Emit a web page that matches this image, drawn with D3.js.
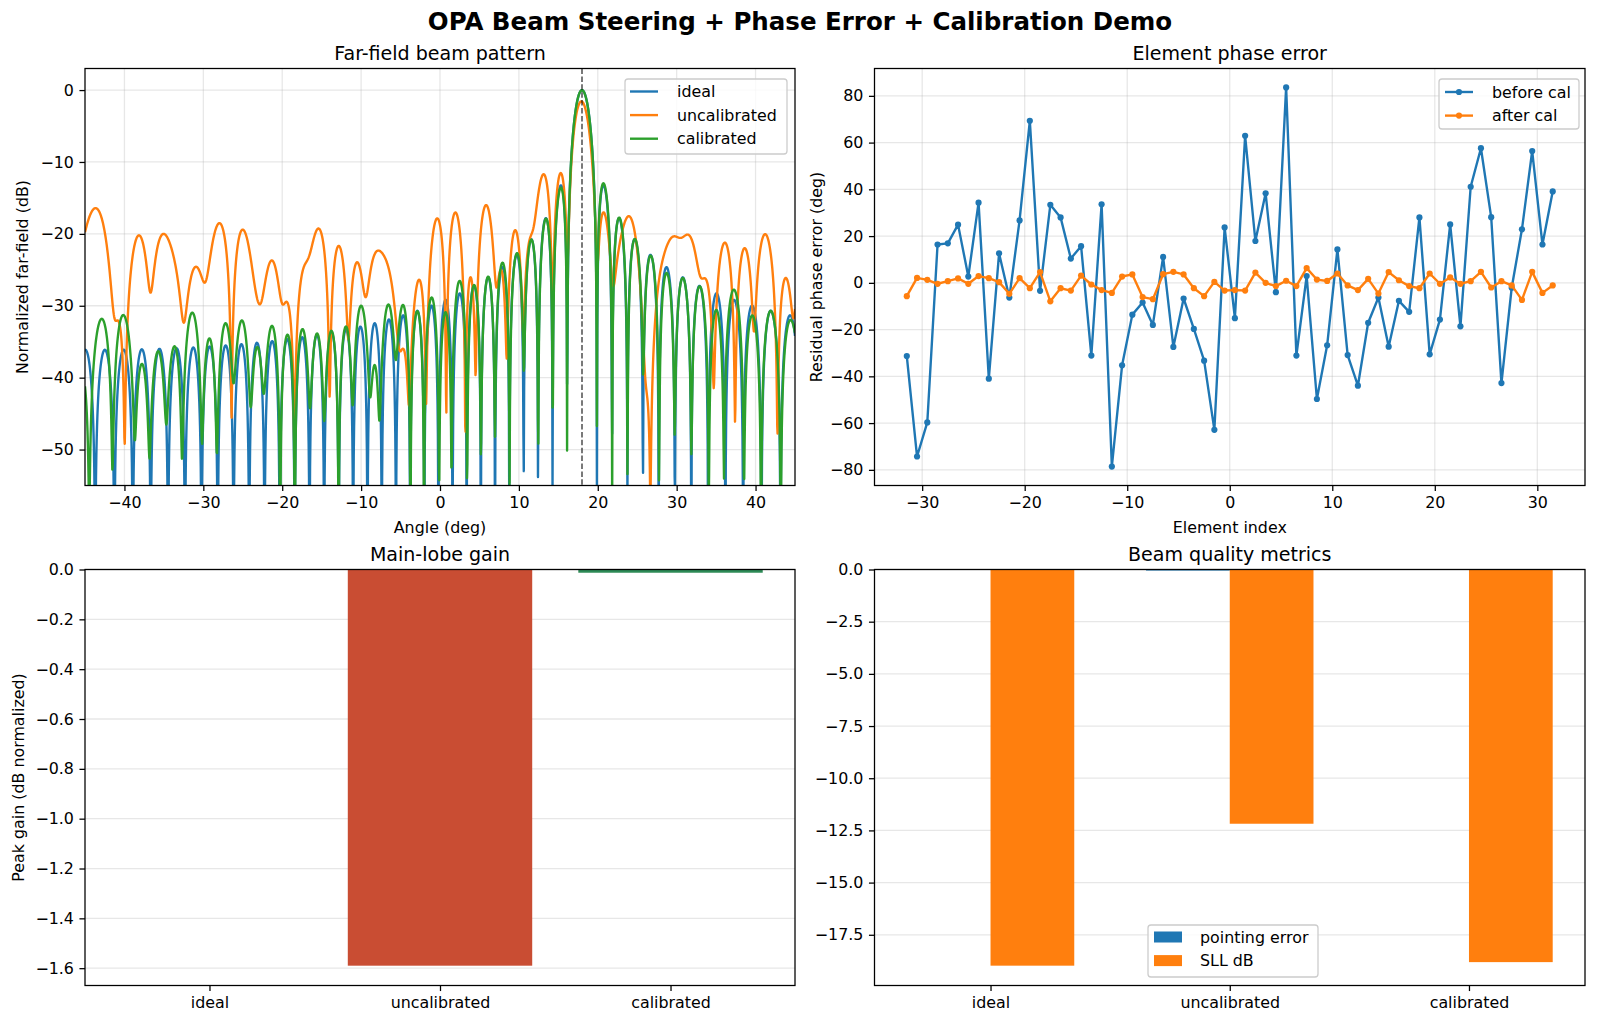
<!DOCTYPE html>
<html>
<head>
<meta charset="utf-8">
<script src="https://cdn.jsdelivr.net/npm/d3@7/dist/d3.min.js"></script>
<style>
  body { margin: 0; background: #fff; }
  text { font-family: "DejaVu Sans", sans-serif; fill: #000; }
</style>
</head>
<body>
<script>
// Figure (matplotlib-like sizes at ~114 dpi)
const W = 1600, H = 1024;
const PT = 1600 / 14 / 72;
const TICK_FS = 10 * PT, LABEL_FS = 10 * PT, TITLE_FS = 12 * PT;
const LW = 1.5 * PT, AXW = 0.8 * PT, TICK_LEN = 3.5 * PT;

// Colors
const C_BLUE = '#1f77b4', C_ORANGE = '#ff7f0e', C_GREEN = '#2ca02c';

// ---- Data ----
// element positions (index, centred)
const ELEM_IDX = d3.range(-31.5, 32, 1);
// residual phase error per element (deg)
const PHASE_BEFORE = [
  -31.3, -74.3, -59.7, 16.4, 16.9, 24.9, 2.7, 34.3, -41.0, 12.6,
  -6.3, 26.7, 69.3, -3.4, 33.4, 28.0, 10.4, 15.7, -31.1, 33.6,
  -78.6, -35.3, -13.6, -8.4, -18.0, 11.1, -27.4, -6.7, -19.7, -33.3,
  -62.9, 23.7, -15.1, 62.9, 17.9, 38.3, -4.0, 83.6, -31.1, 2.9,
  -49.7, -26.7, 14.3, -30.9, -44.0, -17.1, -6.3, -27.3, -7.7, -12.4,
  28.0, -30.6, -15.7, 25.0, -18.6, 41.1, 57.6, 28.1, -42.9, -2.1,
  22.9, 56.4, 16.4, 39.1
];
const PHASE_AFTER = [
  -5.7, 2.1, 1.3, -0.4, 0.7, 1.9, -0.4, 2.9, 2.0, 0.3,
  -4.7, 2.0, -2.3, 4.6, -7.9, -2.3, -3.3, 3.1, -0.7, -3.1,
  -4.3, 2.7, 3.6, -6.1, -7.0, 3.7, 4.7, 3.6, -2.3, -5.7,
  0.4, -3.3, -3.1, -3.3, 4.4, 0.0, -1.4, 0.9, -1.4, 6.3,
  1.4, 0.8, 4.0, -1.1, -3.1, 1.7, -4.6, 4.6, 1.1, -1.4,
  -2.3, 4.0, -0.4, 2.3, -0.4, 0.7, 4.7, -2.0, 0.7, -1.1,
  -7.3, 4.7, -4.3, -1.1
];
const STEER_DEG = 18;            // steering angle (dashed line)
const ANGLE_RANGE = [-45, 45];   // scan window
const N_ANGLES = 2001;

const CASES = ['ideal', 'uncalibrated', 'calibrated'];
const PEAK_GAIN_DB = [0, -1.59, -0.013];
const POINTING_ERR = [0, -0.05, 0];
const SLL_DB = [-18.98, -12.18, -18.81];

// ---- far-field of the 64-element, half-wavelength array ----
const rad = d => d * Math.PI / 180;
const ANGLES = d3.range(N_ANGLES).map(i => ANGLE_RANGE[0] + (ANGLE_RANGE[1] - ANGLE_RANGE[0]) * i / (N_ANGLES - 1));
function farField(errDeg) {
  const s0 = Math.sin(rad(STEER_DEG));
  return ANGLES.map(a => {
    const u = Math.sin(rad(a)) - s0;
    let re = 0, im = 0;
    ELEM_IDX.forEach((n, i) => {
      const p = Math.PI * n * u + (errDeg ? rad(errDeg[i]) : 0);
      re += Math.cos(p); im += Math.sin(p);
    });
    const m = Math.hypot(re, im) / ELEM_IDX.length;
    return { a, db: 20 * Math.log10(Math.max(m, 1e-9)) };
  });
}
const FF = [
  { name: 'ideal', color: C_BLUE, pts: farField(null) },
  { name: 'uncalibrated', color: C_ORANGE, pts: farField(PHASE_BEFORE) },
  { name: 'calibrated', color: C_GREEN, pts: farField(PHASE_AFTER) }
];

// ---- SVG ----
const svg = d3.select('body').append('svg')
  .attr('width', W).attr('height', H);
svg.append('rect').attr('width', W).attr('height', H).attr('fill', '#fff');
const defs = svg.append('defs');

svg.append('text')
  .attr('x', W / 2).attr('y', 30)
  .attr('text-anchor', 'middle')
  .attr('font-size', '24.5px').attr('font-weight', 'bold')
  .text('OPA Beam Steering + Phase Error + Calibration Demo');

const PANELS = {
  tl: { x0: 85, x1: 795, y0: 68.5, y1: 485.5 },
  tr: { x0: 874.5, x1: 1585, y0: 68.5, y1: 485.5 },
  bl: { x0: 85, x1: 795, y0: 569.5, y1: 985.5 },
  br: { x0: 874.5, x1: 1585, y0: 569.5, y1: 985.5 }
};

const minus = s => String(s).replace('-', '\u2212');

function panel(key, title, xlabel, ylabel, ylabelX) {
  const p = PANELS[key];
  const g = svg.append('g');
  defs.append('clipPath').attr('id', 'clip-' + key)
    .append('rect').attr('x', p.x0).attr('y', p.y0)
    .attr('width', p.x1 - p.x0).attr('height', p.y1 - p.y0);
  g.append('text')
    .attr('x', (p.x0 + p.x1) / 2).attr('y', p.y0 - 9)
    .attr('text-anchor', 'middle').attr('font-size', TITLE_FS + 'px')
    .text(title);
  if (xlabel) g.append('text')
    .attr('x', (p.x0 + p.x1) / 2).attr('y', p.y1 + 47)
    .attr('text-anchor', 'middle').attr('font-size', LABEL_FS + 'px')
    .text(xlabel);
  if (ylabel) g.append('text')
    .attr('transform', `translate(${ylabelX},${(p.y0 + p.y1) / 2}) rotate(-90)`)
    .attr('text-anchor', 'middle').attr('font-size', LABEL_FS + 'px')
    .text(ylabel);
  return { g, p };
}

function drawAxes(g, p, x, y, xt, yt, xfmt, yfmt, gridX) {
  const grid = g.append('g').attr('stroke', '#b0b0b0').attr('stroke-opacity', 0.3).attr('stroke-width', AXW);
  yt.forEach(v => grid.append('line').attr('x1', p.x0).attr('x2', p.x1).attr('y1', y(v)).attr('y2', y(v)));
  if (gridX) xt.forEach(v => grid.append('line').attr('y1', p.y0).attr('y2', p.y1).attr('x1', x(v)).attr('x2', x(v)));
  return () => {
    const ax = g.append('g').attr('transform', `translate(0,${p.y1})`)
      .call(d3.axisBottom(x).tickValues(xt).tickFormat(xfmt).tickSize(TICK_LEN).tickPadding(TICK_LEN).tickSizeOuter(0));
    const ay = g.append('g').attr('transform', `translate(${p.x0},0)`)
      .call(d3.axisLeft(y).tickValues(yt).tickFormat(yfmt).tickSize(TICK_LEN).tickPadding(TICK_LEN).tickSizeOuter(0));
    [ax, ay].forEach(a => {
      a.select('.domain').remove();
      a.selectAll('text').attr('font-size', TICK_FS + 'px').attr('font-family', '"DejaVu Sans", sans-serif').attr('fill', '#000');
      a.selectAll('line').attr('stroke', '#000').attr('stroke-width', AXW);
    });
    g.append('rect').attr('x', p.x0).attr('y', p.y0)
      .attr('width', p.x1 - p.x0).attr('height', p.y1 - p.y0)
      .attr('fill', 'none').attr('stroke', '#000').attr('stroke-width', AXW);
  };
}

function legendBox(g, x, y, w, h) {
  g.append('rect').attr('x', x).attr('y', y).attr('width', w).attr('height', h)
    .attr('rx', 3).attr('fill', '#fff').attr('fill-opacity', 0.8)
    .attr('stroke', '#cccccc').attr('stroke-width', AXW);
}

// ---- Far-field beam pattern ----
{
  const { g, p } = panel('tl', 'Far-field beam pattern', 'Angle (deg)', 'Normalized far-field (dB)', 28);
  const x = d3.scaleLinear().domain(ANGLE_RANGE).range([p.x0, p.x1]);
  const y = d3.scaleLinear().domain([-55, 3]).range([p.y1, p.y0]);
  const finish = drawAxes(g, p, x, y, d3.range(-40, 41, 10), d3.range(-50, 1, 10), minus, minus, true);
  const line = d3.line().x(d => x(d.a)).y(d => y(Math.max(d.db, -80)));
  const plot = g.append('g').attr('clip-path', 'url(#clip-tl)');
  FF.forEach(s => plot.append('path').datum(s.pts)
    .attr('d', line).attr('fill', 'none').attr('stroke', s.color)
    .attr('stroke-width', LW).attr('stroke-linejoin', 'round'));
  plot.append('line').attr('x1', x(STEER_DEG)).attr('x2', x(STEER_DEG))
    .attr('y1', p.y0).attr('y2', p.y1)
    .attr('stroke', '#000').attr('stroke-opacity', 0.7).attr('stroke-width', 1.5)
    .attr('stroke-dasharray', '5.5,2.4');
  finish();
  const lg = g.append('g');
  legendBox(lg, 625, 79, 162, 75);
  FF.forEach((s, i) => {
    const cy = 91.5 + i * 23.6;
    lg.append('line').attr('x1', 630).attr('x2', 658).attr('y1', cy).attr('y2', cy)
      .attr('stroke', s.color).attr('stroke-width', LW);
    lg.append('text').attr('x', 677).attr('y', cy + 5.5).attr('font-size', TICK_FS + 'px').text(s.name);
  });
}

// ---- Element phase error ----
{
  const { g, p } = panel('tr', 'Element phase error', 'Element index', 'Residual phase error (deg)', 821.5);
  const x = d3.scaleLinear().domain([-34.65, 34.65]).range([p.x0, p.x1]);
  const y = d3.scaleLinear().domain([-86.7, 91.7]).range([p.y1, p.y0]);
  const finish = drawAxes(g, p, x, y, d3.range(-30, 31, 10), d3.range(-80, 81, 20), minus, minus, true);
  const series = [
    { name: 'before cal', color: C_BLUE, vals: PHASE_BEFORE },
    { name: 'after cal', color: C_ORANGE, vals: PHASE_AFTER }
  ];
  const line = d3.line().x((d, i) => x(ELEM_IDX[i])).y(d => y(d));
  series.forEach(s => {
    const sg = g.append('g');
    sg.append('path').datum(s.vals).attr('d', line).attr('fill', 'none')
      .attr('stroke', s.color).attr('stroke-width', LW).attr('stroke-linejoin', 'round');
    sg.selectAll('circle').data(s.vals).join('circle')
      .attr('cx', (d, i) => x(ELEM_IDX[i])).attr('cy', d => y(d))
      .attr('r', 3.1).attr('fill', s.color);
  });
  finish();
  const lg = g.append('g');
  legendBox(lg, 1439, 79, 140, 50);
  series.forEach((s, i) => {
    const cy = 92 + i * 23.6;
    lg.append('line').attr('x1', 1445).attr('x2', 1473).attr('y1', cy).attr('y2', cy)
      .attr('stroke', s.color).attr('stroke-width', LW);
    lg.append('circle').attr('cx', 1459).attr('cy', cy).attr('r', 3.1).attr('fill', s.color);
    lg.append('text').attr('x', 1492).attr('y', cy + 5.5).attr('font-size', TICK_FS + 'px').text(s.name);
  });
}

// ---- Main-lobe gain ----
{
  const { g, p } = panel('bl', 'Main-lobe gain', null, 'Peak gain (dB normalized)', 24);
  const x = d3.scaleLinear().domain([-0.54, 2.54]).range([p.x0, p.x1]);
  const y = d3.scaleLinear().domain([-1.6695, 0]).range([p.y1, p.y0]);
  const finish = drawAxes(g, p, x, y, [0, 1, 2], d3.range(-16, 1, 2).map(v => v / 10),
    i => CASES[i], v => minus(v.toFixed(1)), false);
  const BAR_COLORS = ['#4c72b0', '#c94d33', '#2e8b57'];
  g.append('g').selectAll('rect').data(PEAK_GAIN_DB).join('rect')
    .attr('x', (d, i) => x(i - 0.4)).attr('width', x(0.8) - x(0))
    .attr('y', d => y(Math.max(d, 0))).attr('height', d => Math.abs(y(d) - y(0)))
    .attr('fill', (d, i) => BAR_COLORS[i]);
  finish();
}

// ---- Beam quality metrics ----
{
  const { g, p } = panel('br', 'Beam quality metrics', null, null, 0);
  const x = d3.scaleLinear().domain([-0.485, 2.485]).range([p.x0, p.x1]);
  const y = d3.scaleLinear().domain([-19.93, 0]).range([p.y1, p.y0]);
  const finish = drawAxes(g, p, x, y, [0, 1, 2], d3.range(-17.5, 0.1, 2.5),
    i => CASES[i], v => minus(v.toFixed(1)), false);
  const BW = 0.35;
  const groups = [
    { name: 'pointing error', color: C_BLUE, vals: POINTING_ERR, off: -BW },
    { name: 'SLL dB', color: C_ORANGE, vals: SLL_DB, off: 0 }
  ];
  groups.forEach(s => g.append('g').selectAll('rect').data(s.vals).join('rect')
    .attr('x', (d, i) => x(i + s.off)).attr('width', x(BW) - x(0))
    .attr('y', d => y(Math.max(d, 0))).attr('height', d => Math.abs(y(d) - y(0)))
    .attr('fill', s.color));
  finish();
  const lg = g.append('g');
  legendBox(lg, 1148, 925, 170, 52);
  groups.forEach((s, i) => {
    const cy = 937 + i * 23.6;
    lg.append('rect').attr('x', 1154).attr('y', cy - 5.5).attr('width', 28).attr('height', 11).attr('fill', s.color);
    lg.append('text').attr('x', 1200).attr('y', cy + 5.5).attr('font-size', TICK_FS + 'px').text(s.name);
  });
}
</script>
</body>
</html>
